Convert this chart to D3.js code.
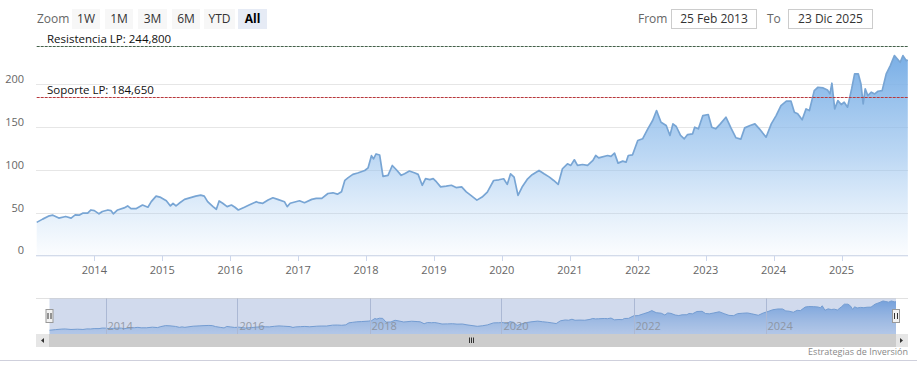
<!DOCTYPE html>
<html><head><meta charset="utf-8">
<script src="https://cdn.jsdelivr.net/npm/d3@7"></script>
<style>body{margin:0;background:#fff;}svg{display:block;font-family:"Open Sans",sans-serif;}</style>
</head><body>
<svg id="c" width="917" height="381"></svg>
<script>
const dates = ["2013-02-25","2013-03-29","2013-05-04","2013-05-23","2013-06-24","2013-07-31","2013-08-29","2013-09-20","2013-10-11","2013-10-30","2013-11-26","2013-12-14",
"2014-01-01","2014-01-26","2014-02-13","2014-03-15","2014-03-31","2014-04-13","2014-05-06","2014-06-10","2014-06-29","2014-07-17","2014-08-15","2014-09-17","2014-10-16","2014-11-03","2014-11-29","2014-12-24",
"2015-01-23","2015-02-14","2015-02-28","2015-03-16","2015-04-02","2015-05-01","2015-06-07","2015-06-30","2015-07-27","2015-08-15","2015-09-02","2015-10-01","2015-10-19","2015-11-03","2015-11-22","2015-12-16",
"2016-01-08","2016-01-27","2016-02-14","2016-03-18","2016-04-12","2016-05-21","2016-06-03","2016-06-25","2016-07-23","2016-08-18","2016-09-13","2016-10-19","2016-11-03","2016-11-19","2016-12-14",
"2017-01-08","2017-02-04","2017-03-15","2017-04-08","2017-05-08","2017-06-10","2017-07-07","2017-07-31","2017-08-22","2017-09-09","2017-09-27","2017-10-22","2017-11-17","2017-12-25",
"2018-01-12","2018-01-30","2018-02-10","2018-02-24","2018-03-15","2018-04-02","2018-04-29","2018-05-22","2018-06-13","2018-07-09","2018-07-27","2018-08-22","2018-09-21","2018-10-08","2018-10-30","2018-11-17","2018-12-10","2018-12-28",
"2019-01-15","2019-02-06","2019-03-08","2019-04-05","2019-04-30","2019-05-30","2019-06-24","2019-07-22","2019-08-20","2019-09-17","2019-10-15","2019-11-18","2019-12-16",
"2020-01-11","2020-01-30","2020-02-17","2020-03-07","2020-03-28","2020-04-19","2020-05-19","2020-06-12","2020-07-19","2020-08-15","2020-09-13","2020-10-06","2020-10-30","2020-11-22","2020-12-19",
"2021-01-06","2021-01-25","2021-02-11","2021-03-10","2021-04-06","2021-05-05","2021-05-20","2021-06-05","2021-06-20","2021-07-23","2021-08-10","2021-08-29","2021-09-17","2021-10-12","2021-10-30","2021-11-11","2021-12-04",
"2022-01-01","2022-01-27","2022-02-24","2022-03-22","2022-04-12","2022-05-06","2022-06-03","2022-06-23","2022-07-09","2022-07-27","2022-08-19","2022-09-08","2022-09-26","2022-10-23","2022-11-03","2022-11-23","2022-12-17",
"2023-01-15","2023-02-03","2023-02-24","2023-03-21","2023-04-20","2023-05-17","2023-06-13","2023-07-09","2023-07-30","2023-08-28","2023-09-23","2023-10-17","2023-11-22","2023-12-20",
"2024-01-15","2024-02-10","2024-03-10","2024-04-04","2024-04-22","2024-05-10","2024-06-03","2024-06-24","2024-07-12","2024-08-07","2024-08-27","2024-09-24","2024-10-17","2024-10-30","2024-11-10","2024-11-25","2024-12-12","2024-12-30",
"2025-01-15","2025-02-02","2025-02-24","2025-03-12","2025-04-01","2025-04-15","2025-04-27","2025-05-08","2025-05-22","2025-06-10","2025-06-28","2025-07-16","2025-08-07","2025-08-29","2025-09-20","2025-10-12","2025-10-28","2025-11-12","2025-11-27","2025-12-15","2025-12-23"];
const values = [38.5,42.3,46.2,46.9,43.5,45.4,43.5,47.3,46.9,49.2,49.2,53,
52.3,48.5,51.2,53,52.3,48.5,53,55.4,57.7,54.6,54.6,58.8,56.2,62.7,69.2,67.7,
63.8,57.7,60.8,57.7,60.8,65.4,67.7,69.2,70.4,69.2,62.7,56.9,53.8,63.5,60.8,56.9,
58.8,56.2,53,56.2,58.8,62.7,61.5,60.8,64.6,67.3,65.4,62.7,56.9,60.8,62.3,
63.8,61.5,65.4,66.5,66.5,72.3,73.1,71.5,74.2,87.7,90.8,94.6,96.2,99.2,
102.3,116.5,112.7,118.5,117.3,92.3,93.5,105,100,93.5,95.4,98.5,96.2,94.6,81.9,89.6,88.5,89.6,
85.8,80,80.8,81.9,79.2,80,74.2,69.5,64.5,68.1,73.9,87.5,88.3,
89.5,82.9,95.3,91.4,70,79.8,89.5,94.2,99.2,95.3,91.4,87.5,82.9,101.2,107,
105.1,111.7,105.1,106.2,105.1,110.9,116.7,114,114.8,116.7,115.6,119.5,107.8,110.1,108.9,116.7,117.5,
134.2,136.2,147.9,157.6,169.3,155.6,151.8,140.1,153.7,150.6,140.1,136.2,141.2,142,149.8,147.9,163.4,
164.6,149.8,147.9,153.7,161.5,149,137.4,135.8,149,151.8,153.7,147.9,138.1,153.7,
163.4,175.1,180.2,180.2,167.3,165.4,158.4,171.2,169.3,192.6,196.5,195.7,193.4,188.7,201.2,171.2,180.9,176.3,
179,173.2,194.6,212.1,212.1,200.4,177,194.6,186.8,190.7,188.7,191.8,192.6,212.1,221.8,233.5,229.6,225.7,233.5,227.6,228.4];
const yTicks = [0,50,100,150,200];
const xTickYears = [2014,2015,2016,2017,2018,2019,2020,2021,2022,2023,2024,2025];
const navTickYears = [2014,2016,2018,2020,2022,2024];
const rangeButtons = ["1W","1M","3M","6M","YTD","All"];
const plotLineLabels = ["Resistencia LP: 244,800","Soporte LP: 184,650"];
const plotLineValues = [244.8,184.65];
const fromText = "25 Feb 2013", toText = "23 Dic 2025";

const parse = d3.timeParse("%Y-%m-%d");
const data = dates.map((d,i)=>({d:parse(d),v:values[i]}));
const svg = d3.select("#c");
const defs = svg.append("defs");

const x = d3.scaleTime().domain([parse("2013-02-25"),parse("2025-12-23")]).range([36.7,907.8]);
const y = d3.scaleLinear().domain([0,250]).range([255.3,41.5]);

// gridlines
svg.append("g").selectAll("line").data(yTicks).join("line")
  .attr("x1",36).attr("x2",908).attr("y1",d=>Math.round(y(d))+0.5).attr("y2",d=>Math.round(y(d))+0.5)
  .attr("stroke","#e6e6e6").attr("stroke-width",1);
svg.append("g").selectAll("text").data(yTicks).join("text")
  .attr("x",24).attr("y",d=>y(d)-1).attr("text-anchor","end")
  .attr("font-size",11).attr("fill","#666").text(d=>d);

// gradient
const g1 = defs.append("linearGradient").attr("id","ag").attr("gradientUnits","userSpaceOnUse")
  .attr("x1",0).attr("x2",0).attr("y1",y(d3.max(values))).attr("y2",y(0));
g1.append("stop").attr("offset",0).attr("stop-color","#7aafe6").attr("stop-opacity",1);
g1.append("stop").attr("offset",0.5).attr("stop-color","#8fbdec").attr("stop-opacity",0.6);
g1.append("stop").attr("offset",1).attr("stop-color","#a8cdf2").attr("stop-opacity",0.05);

const area = d3.area().x(d=>x(d.d)).y0(y(0)).y1(d=>y(d.v));
const line = d3.line().x(d=>x(d.d)).y(d=>y(d.v));
svg.append("path").datum(data).attr("d",area).attr("fill","url(#ag)");
svg.append("path").datum(data).attr("d",line).attr("fill","none").attr("stroke","#78a5d4").attr("stroke-width",1.7).attr("stroke-linejoin","round");

// plot lines
const plColors = ["#44614a","#b8383c"];
plotLineValues.forEach((v,i)=>{
  const yy = Math.round(y(v))+0.5;
  svg.append("line").attr("x1",36.7).attr("x2",907.8).attr("y1",yy).attr("y2",yy)
    .attr("stroke",plColors[i]).attr("stroke-width",1).attr("stroke-dasharray","3,1");
  svg.append("text").attr("x",47).attr("y",yy-3.5).attr("font-size",11.5).attr("fill","#111").text(plotLineLabels[i]);
});

// x axis
svg.append("line").attr("x1",36).attr("x2",908).attr("y1",255.8).attr("y2",255.8).attr("stroke","#ccd6eb");
const xt = xTickYears.map(yr=>new Date(yr,0,1));
svg.append("g").selectAll("line").data(xt).join("line")
  .attr("x1",d=>Math.round(x(d))+0.5).attr("x2",d=>Math.round(x(d))+0.5).attr("y1",256).attr("y2",261)
  .attr("stroke","#ccd6eb");
svg.append("g").selectAll("text").data(xt).join("text")
  .attr("x",d=>x(d)).attr("y",273.5).attr("text-anchor","middle").attr("font-size",11).attr("fill","#666")
  .text(d=>d.getFullYear());

// navigator
const nx = d3.scaleTime().domain(x.domain()).range([49.5,896]);
const ny = d3.scaleLinear().domain([20,240]).range([333,300]);
const navTop = 298, navBot = 334;
svg.append("rect").attr("x",49.5).attr("y",navTop).attr("width",846.5).attr("height",navBot-navTop).attr("fill","#fff");
const g2 = defs.append("linearGradient").attr("id","ng").attr("x1",0).attr("x2",0).attr("y1",0).attr("y2",1);
g2.append("stop").attr("offset",0).attr("stop-color","#6fa5e3").attr("stop-opacity",0.9);
g2.append("stop").attr("offset",1).attr("stop-color","#a7c8ee").attr("stop-opacity",0.5);
const narea = d3.area().x(d=>nx(d.d)).y0(navBot).y1(d=>ny(d.v));
svg.append("path").datum(data).attr("d",narea).attr("fill","url(#ng)");
svg.append("path").datum(data).attr("d",d3.line().x(d=>nx(d.d)).y(d=>ny(d.v))).attr("fill","none").attr("stroke","#7aa7d8").attr("stroke-width",1);
const nt = navTickYears.map(yr=>new Date(yr,0,1));
svg.append("g").selectAll("line").data(nt).join("line")
  .attr("x1",d=>Math.round(nx(d))+0.5).attr("x2",d=>Math.round(nx(d))+0.5).attr("y1",navTop).attr("y2",navBot)
  .attr("stroke","#c9cfdc");
svg.append("rect").attr("x",49.5).attr("y",navTop).attr("width",846.5).attr("height",navBot-navTop)
  .attr("fill","rgba(102,133,194,0.3)");
svg.append("g").selectAll("text").data(nt).join("text")
  .attr("x",d=>nx(d)+2).attr("y",330).attr("font-size",11).attr("fill","#8a8f99").attr("opacity",0.85)
  .text(d=>d.getFullYear());
svg.append("line").attr("x1",36).attr("x2",908).attr("y1",navTop+0.5).attr("y2",navTop+0.5).attr("stroke","#ccc").attr("stroke-width",0.6);
// handles
[49.5,896].forEach(hx=>{
  svg.append("rect").attr("x",hx-3.5).attr("y",309.5).attr("width",7).attr("height",13).attr("fill","#f2f2f2").attr("stroke","#999");
  svg.append("line").attr("x1",hx-1.5).attr("x2",hx-1.5).attr("y1",313).attr("y2",319).attr("stroke","#333");
  svg.append("line").attr("x1",hx+1.5).attr("x2",hx+1.5).attr("y1",313).attr("y2",319).attr("stroke","#333");
});
// scrollbar
svg.append("rect").attr("x",36).attr("y",334).attr("width",872).attr("height",13).attr("fill","#f2f2f2");
svg.append("rect").attr("x",49).attr("y",334).attr("width",847).attr("height",13).attr("fill","#cccccc");
svg.append("rect").attr("x",36).attr("y",334).attr("width",13).attr("height",13).attr("fill","#e6e6e6");
svg.append("rect").attr("x",896).attr("y",334).attr("width",12).attr("height",13).attr("fill","#e6e6e6");
svg.append("path").attr("d","M44,338 L41,340.5 L44,343 Z").attr("fill","#333");
svg.append("path").attr("d","M900,338 L903,340.5 L900,343 Z").attr("fill","#333");
[-2,0,2].forEach(o=>svg.append("line").attr("x1",471.5+o).attr("x2",471.5+o).attr("y1",337.5).attr("y2",343).attr("stroke","#333"));

// bottom line + credits
svg.append("line").attr("x1",0).attr("x2",917).attr("y1",360.5).attr("y2",360.5).attr("stroke","#cfd0dc");
svg.append("text").attr("x",908).attr("y",355).attr("text-anchor","end").attr("font-size",9).attr("fill","#888").text("Estrategias de Inversión");

// range selector
svg.append("text").attr("x",37).attr("y",22.5).attr("font-size",12).attr("fill","#666").text("Zoom");
const bx = [72,105,138,172,204,238], bw=[28,28,29,28,31,29];
rangeButtons.forEach((b,i)=>{
  const sel = b==="All";
  svg.append("rect").attr("x",bx[i]).attr("y",9).attr("width",bw[i]).attr("height",20).attr("fill",sel?"#e6ebf5":"#f7f7f7");
  svg.append("text").attr("x",bx[i]+bw[i]/2).attr("y",22.5).attr("text-anchor","middle").attr("font-size",12)
    .attr("font-weight",sel?"bold":"normal").attr("fill",sel?"#000":"#333").text(b);
});
svg.append("text").attr("x",638).attr("y",22.5).attr("font-size",12).attr("fill","#666").text("From");
svg.append("rect").attr("x",671.5).attr("y",9.5).attr("width",85).attr("height",19).attr("fill","#fff").attr("stroke","#ccc");
svg.append("text").attr("x",714).attr("y",22.5).attr("text-anchor","middle").attr("font-size",12).attr("fill","#333").text(fromText);
svg.append("text").attr("x",767).attr("y",22.5).attr("font-size",12).attr("fill","#666").text("To");
svg.append("rect").attr("x",788.5).attr("y",9.5).attr("width",84).attr("height",19).attr("fill","#fff").attr("stroke","#ccc");
svg.append("text").attr("x",830.5).attr("y",22.5).attr("text-anchor","middle").attr("font-size",12).attr("fill","#333").text(toText);
</script>
</body></html>
